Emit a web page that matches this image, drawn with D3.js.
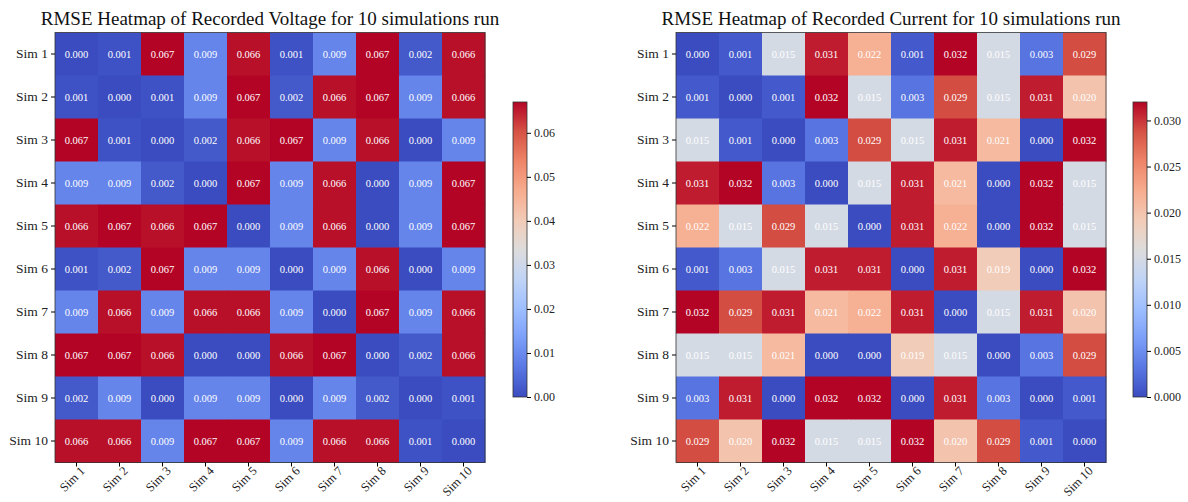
<!DOCTYPE html>
<html>
<head>
<meta charset="utf-8">
<script src="https://cdn.jsdelivr.net/npm/d3@7"></script>
<style>
  body { margin: 0; background: #fff; }
  svg text { font-family: "Liberation Serif", "DejaVu Serif", serif; }
</style>
</head>
<body>
<svg id="chart" width="1188" height="502"></svg>
<script>
let sims = ['Sim 1','Sim 2','Sim 3','Sim 4','Sim 5','Sim 6','Sim 7','Sim 8','Sim 9','Sim 10'];

let voltage = [
  [0.000,0.001,0.067,0.009,0.066,0.001,0.009,0.067,0.002,0.066],
  [0.001,0.000,0.001,0.009,0.067,0.002,0.066,0.067,0.009,0.066],
  [0.067,0.001,0.000,0.002,0.066,0.067,0.009,0.066,0.000,0.009],
  [0.009,0.009,0.002,0.000,0.067,0.009,0.066,0.000,0.009,0.067],
  [0.066,0.067,0.066,0.067,0.000,0.009,0.066,0.000,0.009,0.067],
  [0.001,0.002,0.067,0.009,0.009,0.000,0.009,0.066,0.000,0.009],
  [0.009,0.066,0.009,0.066,0.066,0.009,0.000,0.067,0.009,0.066],
  [0.067,0.067,0.066,0.000,0.000,0.066,0.067,0.000,0.002,0.066],
  [0.002,0.009,0.000,0.009,0.009,0.000,0.009,0.002,0.000,0.001],
  [0.066,0.066,0.009,0.067,0.067,0.009,0.066,0.066,0.001,0.000]
];

let current = [
  [0.000,0.001,0.015,0.031,0.022,0.001,0.032,0.015,0.003,0.029],
  [0.001,0.000,0.001,0.032,0.015,0.003,0.029,0.015,0.031,0.020],
  [0.015,0.001,0.000,0.003,0.029,0.015,0.031,0.021,0.000,0.032],
  [0.031,0.032,0.003,0.000,0.015,0.031,0.021,0.000,0.032,0.015],
  [0.022,0.015,0.029,0.015,0.000,0.031,0.022,0.000,0.032,0.015],
  [0.001,0.003,0.015,0.031,0.031,0.000,0.031,0.019,0.000,0.032],
  [0.032,0.029,0.031,0.021,0.022,0.031,0.000,0.015,0.031,0.020],
  [0.015,0.015,0.021,0.000,0.000,0.019,0.015,0.000,0.003,0.029],
  [0.003,0.031,0.000,0.032,0.032,0.000,0.031,0.003,0.000,0.001],
  [0.029,0.020,0.032,0.015,0.015,0.032,0.020,0.029,0.001,0.000]
];

let voltTicks = [0.00,0.01,0.02,0.03,0.04,0.05,0.06];
let currTicks = [0.000,0.005,0.010,0.015,0.020,0.025,0.030];

// matplotlib coolwarm, sampled
let coolwarm = ['#3b4cc0','#5977e3','#7b9ff9','#9ebeff','#c0d4f5','#dddcdc','#f2cbb7','#f7ac8e','#ee8468','#d65244','#b40426'];
let cwScale = d3.scaleLinear().domain(d3.range(11).map(i => i/10)).range(coolwarm).interpolate(d3.interpolateRgb).clamp(true);

let svg = d3.select('#chart');
svg.append('rect').attr('width',1188).attr('height',502).attr('fill','#fff');
let defs = svg.append('defs');

function heatmap(opt) {
  let data = opt.data;
  let vmax = d3.max(data.flat());
  let x = d3.scaleBand().domain(sims).range([opt.left, opt.left+430]);
  let y = d3.scaleBand().domain(sims).range([32.5, 462.5]);
  let g = svg.append('g');

  let cells = [];
  data.forEach(function(row,i){
    row.forEach(function(v,j){ cells.push({r:sims[i], c:sims[j], v:v}); });
  });

  g.selectAll('rect.cell').data(cells).enter().append('rect')
    .attr('x', d => x(d.c)).attr('y', d => y(d.r))
    .attr('width', x.bandwidth()+0.5).attr('height', y.bandwidth()+0.5)
    .attr('fill', d => cwScale(d.v/vmax));

  g.selectAll('text.ann').data(cells).enter().append('text')
    .attr('x', d => x(d.c)+x.bandwidth()/2).attr('y', d => y(d.r)+y.bandwidth()/2)
    .attr('dy','0.35em').attr('text-anchor','middle')
    .attr('fill','#fff').attr('font-size','10.5px')
    .text(d => d.v.toFixed(3));

  g.append('rect').attr('x',opt.left).attr('y',32.5).attr('width',430).attr('height',430)
    .attr('fill','none').attr('stroke','#333').attr('stroke-width',0.8);

  // y axis
  let yAx = g.append('g').attr('transform','translate('+opt.left+',0)')
    .call(d3.axisLeft(y).tickSize(4).tickPadding(3));
  yAx.select('.domain').remove();
  yAx.selectAll('text').attr('font-size','13.5px').attr('fill','#222')
    .style('font-family','"Liberation Serif", serif');

  // x axis
  let xAx = g.append('g').attr('transform','translate(0,462.5)')
    .call(d3.axisBottom(x).tickSize(4).tickPadding(1));
  xAx.select('.domain').remove();
  xAx.selectAll('text').attr('font-size','12.5px').attr('fill','#222')
    .style('font-family','"Liberation Serif", serif')
    .attr('text-anchor','end').attr('dy','0.3em')
    .attr('transform','translate(3,3) rotate(-45)');

  // title
  g.append('text').attr('x', opt.left+215).attr('y', 25)
    .attr('text-anchor','middle').attr('font-size','19px').attr('fill','#111')
    .text(opt.title);

  // colorbar
  let cb = d3.scaleLinear().domain([0,vmax]).range([397,102]);
  let gid = 'grad'+opt.left;
  let grad = defs.append('linearGradient').attr('id',gid)
    .attr('x1',0).attr('y1',1).attr('x2',0).attr('y2',0);
  d3.range(0,1.0001,0.05).forEach(function(t){
    grad.append('stop').attr('offset',t).attr('stop-color',cwScale(t));
  });
  g.append('rect').attr('x',opt.cbx).attr('y',102).attr('width',14).attr('height',295)
    .attr('fill','url(#'+gid+')').attr('stroke','#333').attr('stroke-width',0.8);
  let cAx = g.append('g').attr('transform','translate('+(opt.cbx+14)+',0)')
    .call(d3.axisRight(cb).tickValues(opt.ticks).tickFormat(d3.format(opt.fmt)).tickSize(4).tickPadding(3));
  cAx.select('.domain').remove();
  cAx.selectAll('text').attr('font-size','12px').attr('fill','#222')
    .style('font-family','"Liberation Serif", serif');
}

heatmap({data: voltage, left: 55, cbx: 513, ticks: voltTicks, fmt: '.2f',
  title: 'RMSE Heatmap of Recorded Voltage for 10 simulations run'});
heatmap({data: current, left: 676, cbx: 1133, ticks: currTicks, fmt: '.3f',
  title: 'RMSE Heatmap of Recorded Current for 10 simulations run'});
</script>
</body>
</html>
